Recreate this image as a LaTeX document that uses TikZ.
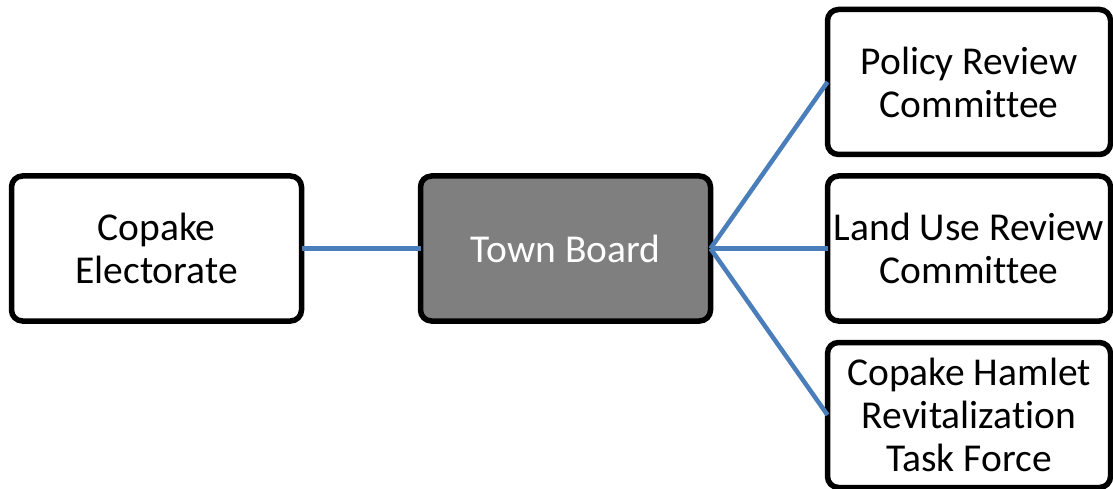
\documentclass[tikz,border=0pt]{standalone}
\usepackage{fontspec}
\setmainfont[Ligatures=NoCommon]{Carlito}
\definecolor{linkblue}{HTML}{4A7EBB}
\definecolor{boardgray}{HTML}{7F7F7F}
\tikzset{
  orgbox/.style={draw=black, line width=5.5pt, rounded corners=11pt, fill=white,
    minimum width=290pt, minimum height=145pt, inner sep=0pt, outer sep=0pt,
    align=center, font=\fontsize{39.5}{43}\selectfont, text=black},
  subbox/.style={orgbox, minimum width=283pt},
  boardbox/.style={orgbox, fill=boardgray, text=white},
  link/.style={draw=linkblue, line width=4.5pt}
}
\begin{document}
\begin{tikzpicture}[x=1pt,y=-1pt]
\useasboundingbox (0,0) rectangle (1113,489);
\node[orgbox] (elect) at (156.5,248.5) {Copake\\Electorate};
\node[boardbox] (board) at (565.5,248.5) {Town Board};
\node[subbox] (policy) at (969,82) {Policy Review\\Committee};
\node[subbox] (land) at (969,248.5) {Land Use Review\\Committee};
\node[subbox] (hamlet) at (969,415) {Copake Hamlet\\Revitalization\\Task Force};
\draw[link] (elect.east) -- (board.west);
\draw[link] (board.east) -- (policy.west);
\draw[link] (board.east) -- (land.west);
\draw[link] (board.east) -- (hamlet.west);
\end{tikzpicture}
\end{document}
